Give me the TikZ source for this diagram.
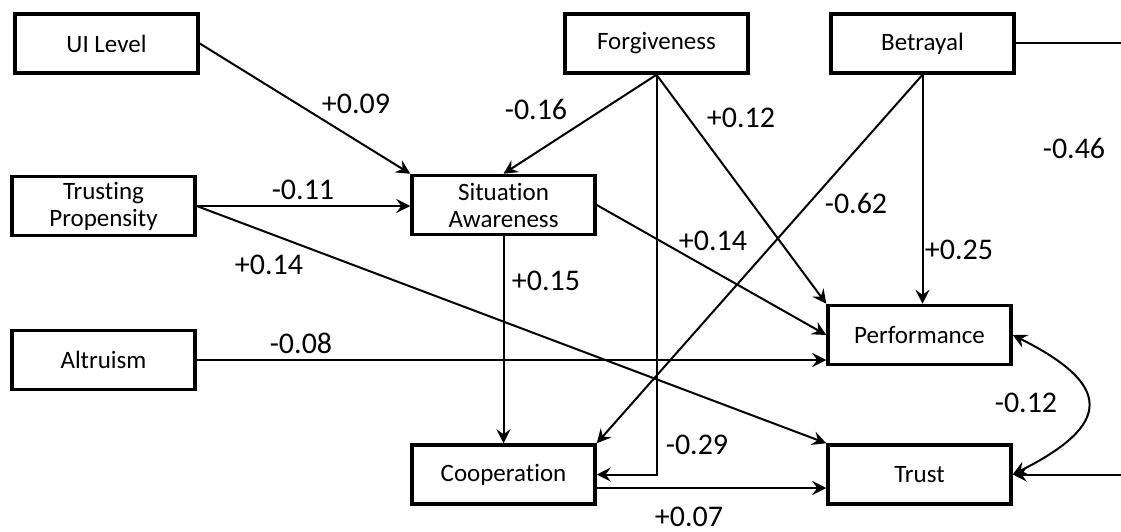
\documentclass[tikz,border=0pt]{standalone}
\usepackage{fontspec}
\setmainfont{Carlito}[Ligatures=NoCommon]
\usetikzlibrary{arrows.meta}

\begin{document}
\begin{tikzpicture}[%
x=1pt, y=-1pt,
>={Stealth[length=14pt,width=14pt,inset=5pt]},
var/.style={draw, line width=3.5pt, minimum width=183pt, minimum height=59pt, inner sep=0pt, align=center, font=\fontsize{25}{27}\selectfont},
coef/.style={inner sep=0pt, font=\fontsize{30}{36}\selectfont},
link/.style={line width=2pt, ->},
]
\useasboundingbox (0,0) rectangle (1121,532);
%% variables;
\node[var] (uilevel) at (106.5,43.5) {UI Level};
\node[var] (propensity) at (103.5,206) {Trusting\\Propensity};
\node[var] (awareness) at (503.5,205) {Situation\\Awareness};
\node[var] (forgiveness) at (656.5,43.5) {Forgiveness};
\node[var] (betrayal) at (922.5,43.5) {Betrayal};
\node[var] (altruism) at (103.5,360) {Altruism};
\node[var] (performance) at (919.5,335) {Performance};
\node[var] (cooperation) at (503.5,474.5) {Cooperation};
\node[var] (trust) at (919.5,474.5) {Trust};
\coordinate (betrayalexit) at (1121,43.5);
\coordinate (trustentry) at (1121,474.5);
%% paths;
\draw[link] (uilevel.east) -- (awareness.north west);
\draw[link] (propensity.east) -- (propensity.east -| awareness.west);
\draw[link] (propensity.east) -- (trust.north west);
\draw[link] (altruism.east) -- (altruism.east -| performance.west);
\draw[link] (forgiveness.south) -- (awareness.north);
\draw[link] (forgiveness.south) -- (performance.north west);
\draw[link] (forgiveness.south) |- (cooperation.east);
\draw[link] (awareness.south) -- (cooperation.north);
\draw[link] (awareness.east) -- (performance.west);
\draw[link] (betrayal.south) -- (cooperation.north east);
\draw[link] (betrayal.south) -- (betrayal.south |- performance.north);
\draw[line width=2pt] (betrayal.east) -- (betrayalexit);
\draw[link] (trustentry) -- (trust.east);
\draw[link] ([yshift=-13.5pt]cooperation.east) -- ([yshift=-13.5pt]trust.west);
\draw[line width=2pt, <->] (performance.east) .. controls +(100,50) and +(100,-50) .. (trust.east);
%% coefficients;
\node[coef] (c-ui-sa) at (356,104) {+0.09};
\node[coef] (c-tp-sa) at (303,190) {-0.11};
\node[coef] (c-tp-tr) at (269,265) {+0.14};
\node[coef] (c-al-pe) at (301,343) {-0.08};
\node[coef] (c-fo-sa) at (536,109) {-0.16};
\node[coef] (c-fo-pe) at (741,118) {+0.12};
\node[coef] (c-fo-co) at (697,445) {-0.29};
\node[coef] (c-sa-co) at (546,281) {+0.15};
\node[coef] (c-sa-pe) at (713,241) {+0.14};
\node[coef] (c-be-co) at (856,203) {-0.62};
\node[coef] (c-be-pe) at (959,250) {+0.25};
\node[coef] (c-be-tr) at (1074,148) {-0.46};
\node[coef] (c-co-tr) at (689,517) {+0.07};
\node[coef] (c-pe-tr) at (1026,403) {-0.12};
\end{tikzpicture}
\end{document}
